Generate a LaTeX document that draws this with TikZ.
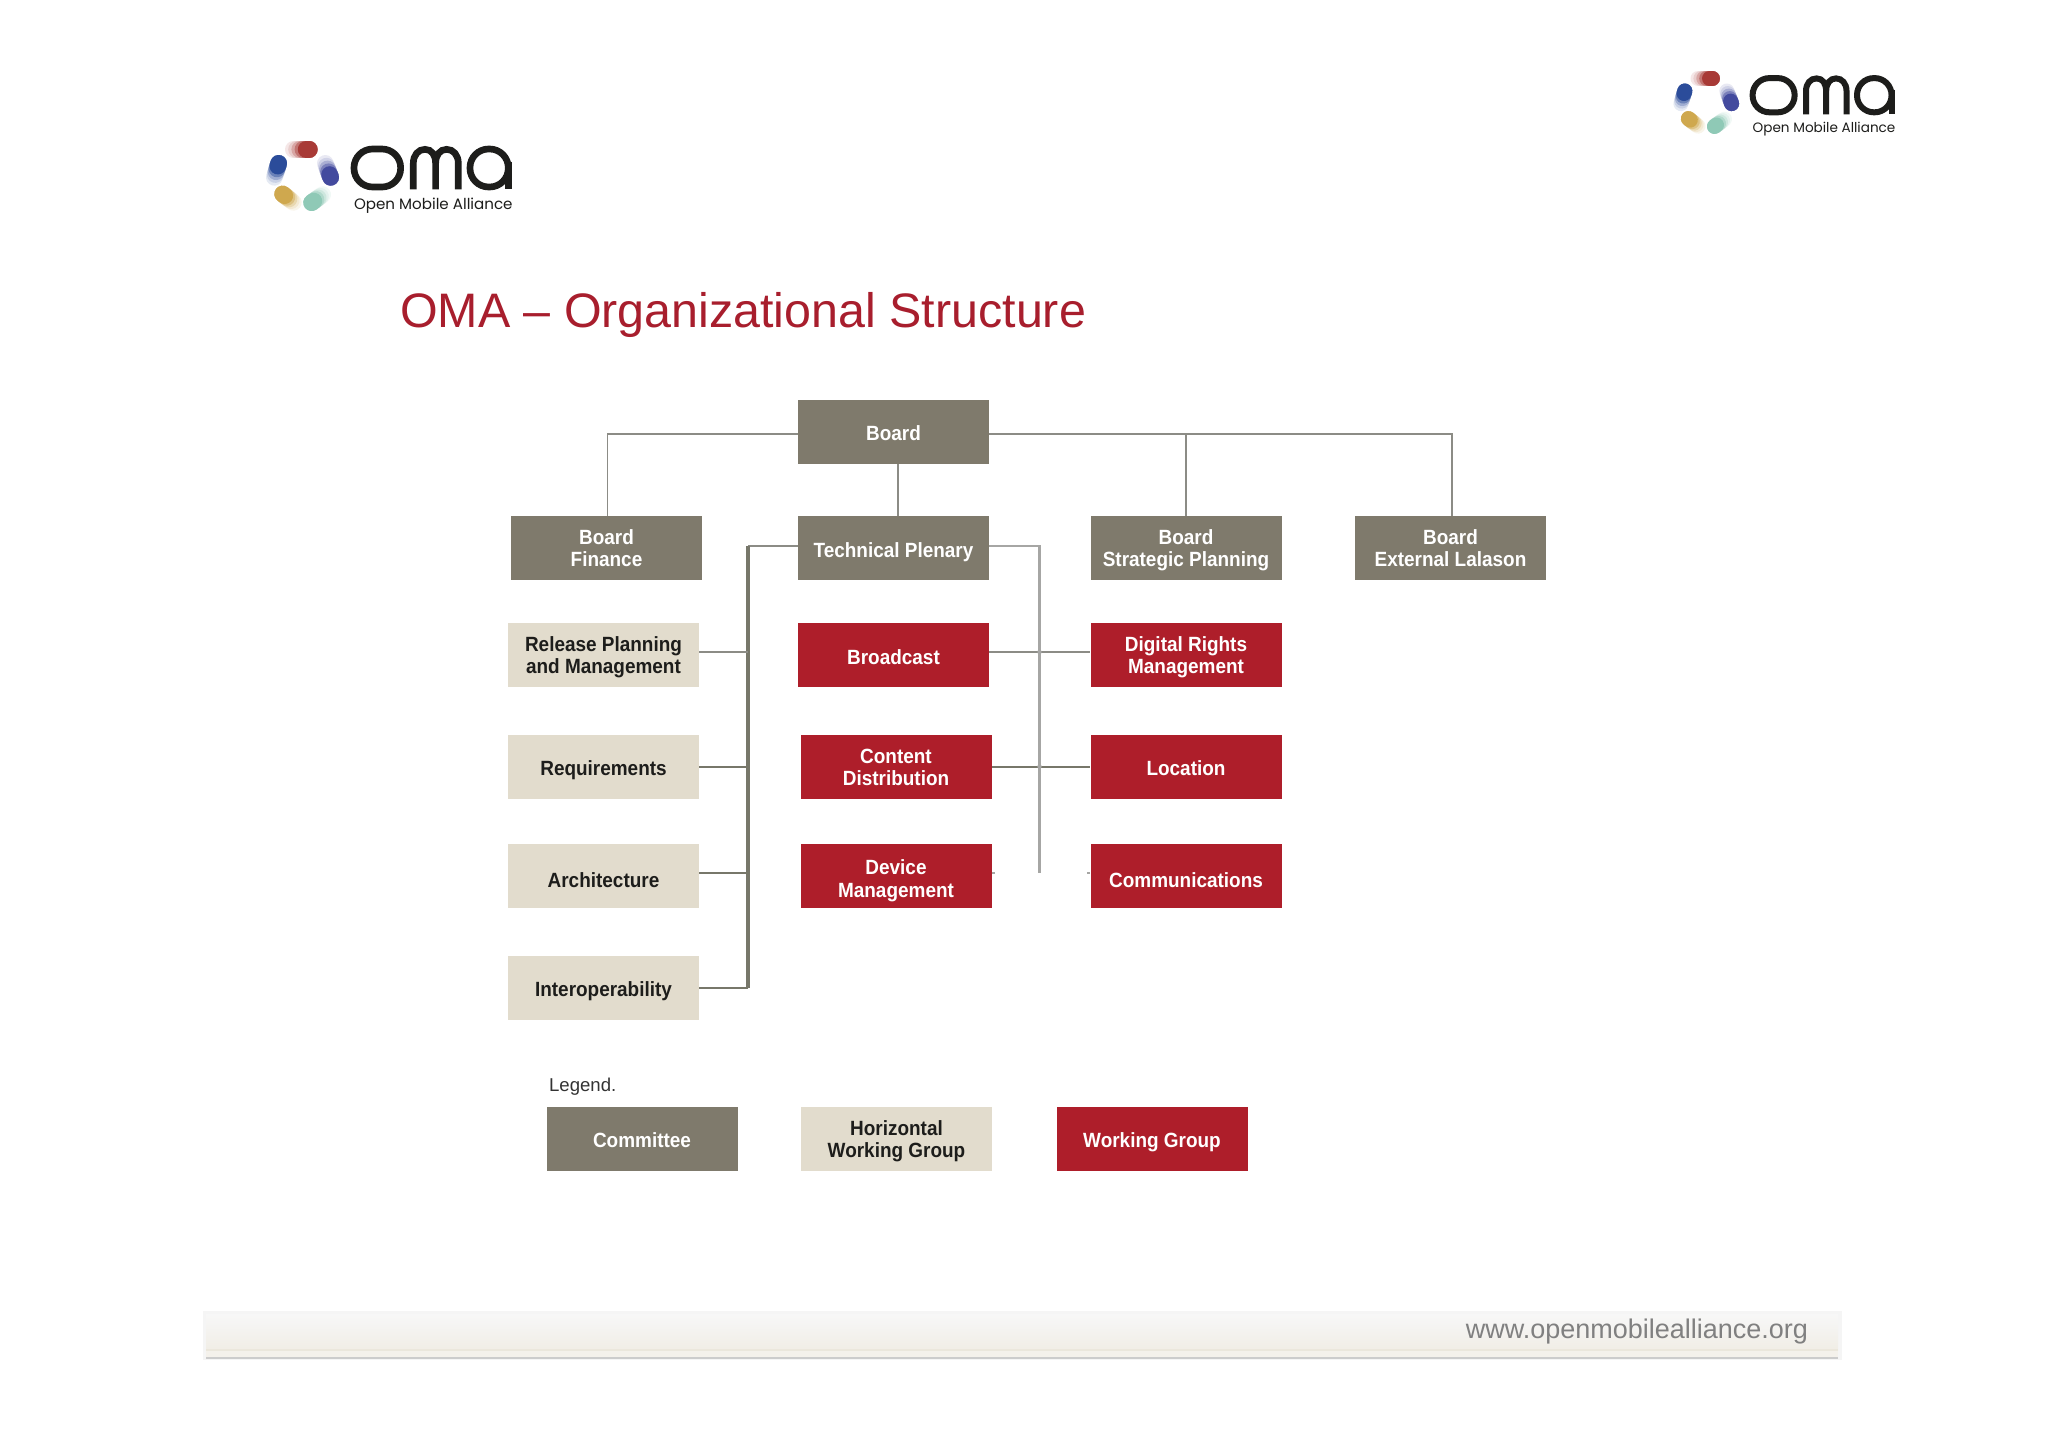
\documentclass[tikz,border=0pt]{standalone}
\usepackage{fontspec}
\setmainfont{Liberation Sans}
\newfontfamily\boxfont[FakeStretch=0.92]{Liberation Sans}
\newfontfamily\logofont{Poppins}
\usetikzlibrary{calc,positioning}
\definecolor{cgrey}{HTML}{7F7A6C}
\definecolor{ctan}{HTML}{E2DCCD}
\definecolor{cred}{HTML}{AE1E2A}
\definecolor{ctitle}{HTML}{A81E2D}
\definecolor{cink}{HTML}{1D1D1B}
\definecolor{cline}{HTML}{8C8C86}
\definecolor{clight}{HTML}{A6A6A4}
\definecolor{cbus}{HTML}{77776A}
\definecolor{bred}{HTML}{A83A36}
\definecolor{bblue}{HTML}{2B4C9A}
\definecolor{bindigo}{HTML}{434A9E}
\definecolor{bgold}{HTML}{CFA84E}
\definecolor{bteal}{HTML}{8FC9B6}

% one blurred stroke of the logo ring, light end first
\newcommand{\omablob}[3]{%
 \foreach \f/\o in {0/12,0.2/25,0.4/45,0.6/70,0.8/100}
  \draw[bl,#3!\o] ($#1!\f!#2$) -- #2;}

\newcommand{\omalogo}[4]{%
 \begin{scope}[shift={(#1,#2)},scale=#3,bl/.style={line width=25pt*#3,line cap=round}]
  \omablob{(160,88)}{(208,88)}{bred}
  \omablob{(103,172)}{(116,130)}{bblue}
  \omablob{(256,130)}{(272,172)}{bindigo}
  \omablob{(160,247)}{(128,222)}{bgold}
  \omablob{(248,224)}{(215,248)}{bteal}
  \begin{scope}[cink,line width=10pt*#3]
   \draw[rounded corners=28pt*#3] (342,87) rectangle (482,201);
   \draw (520,208) -- (520,130) .. controls (520,105) and (535,88) .. (555,88)
    .. controls (575,88) and (587,105) .. (587,130) -- (587,208);
   \draw (587,130) .. controls (587,105) and (600,88) .. (620,88)
    .. controls (640,88) and (655,105) .. (655,130) -- (655,208);
   \draw[rounded corners=28pt*#3] (690,87) rectangle (805,201);
   \draw (805,125) -- (805,208);
  \end{scope}
  \node[scale=3*#3,text=cink,font=\logofont\fontsize{7.55}{9}\selectfont] (#4) at (580,258) {Open Mobile Alliance};
 \end{scope}}

\tikzset{
 rh/.style={execute at begin node={\rule{0pt}{#1}}},
 box/.style={minimum width=95.5pt,minimum height=32pt,inner sep=0pt,align=center,
  font=\boxfont\bfseries\fontsize{10.3}{11.2}\selectfont,
  rh=11.9pt,
  execute at end node={\rule[-2.5pt]{0pt}{2.5pt}}},
 comm/.style={box,fill=cgrey,text=white},
 hwg/.style={box,fill=ctan,text=cink},
 wg/.style={box,fill=cred,text=white},
 ln/.style={cline,line width=0.9pt},
 lnr/.style={clight,line width=1.1pt},
 bus/.style={cbus,line width=1.8pt},
 lnd/.style={cbus,line width=1pt},
 dot/.style={circle,fill=clight,inner sep=0pt,minimum size=2.2pt}
}

\begin{document}
\begin{tikzpicture}[x=0.5pt,y=-0.5pt]
 \useasboundingbox (0,0) rectangle (2048,1447);
 \fill[white] (0,0) rectangle (2048,1447);
 % logos
 \omalogo{240}{120}{0.3333}{logoa}
 \omalogo{1650}{52}{0.3}{logob}
 \node[anchor=west,text=ctitle,font=\fontsize{24.2}{28}\selectfont] (title) at (393,315) {OMA – Organizational Structure};
 % footer band
 \fill[black!4] (203,1311) rectangle (1842,1360);
 \shade[top color=black!3,bottom color=ctan!50] (206,1314) rectangle (1838,1350);
 \fill[ctan!40] (206,1350) rectangle (1838,1359);
 \draw[ctan!70,line width=0.6pt] (206,1350) -- (1838,1350);
 \draw[black!20,line width=1pt] (206,1357.5) -- (1838,1357.5);
 \node[anchor=east,text=black!50,font=\fontsize{13.5}{16}\selectfont] (url) at (1815,1331) {www.openmobilealliance.org};
 % committees
 \node[comm] (board) at (893.5,431.5) {Board};
 \node[comm,rh=21.4pt] (fin) at (606.5,548) {Board\\Finance};
 \node[comm] (tech) at (893.5,548) {Technical Plenary};
 \node[comm,rh=21.4pt] (strat) at (1186,548) {Board\\Strategic Planning};
 \node[comm,rh=21.4pt] (ext) at (1450.5,548) {Board\\External Lalason};
 % horizontal groups
 \node[hwg,rh=21.4pt] (rel) at (603.5,655) {Release Planning\\and Management};
 \node[hwg] (req) at (603.5,766.5) {Requirements};
 \node[hwg,rh=13.9pt] (arch) at (603.5,876) {Architecture};
 \node[hwg] (iop) at (603.5,987.5) {Interoperability};
 % working groups
 \node[wg] (bro) at (893.5,655) {Broadcast};
 \node[wg,rh=21.4pt] (con) at (896,766.5) {Content\\Distribution};
 \node[wg,rh=23.6pt] (dev) at (896,876) {Device\\Management};
 \node[wg,rh=21.4pt] (drm) at (1186,655) {Digital Rights\\Management};
 \node[wg] (loc) at (1186,766.5) {Location};
 \node[wg,rh=13.9pt] (cmn) at (1186,876) {Communications};
 % legend
 \node[anchor=west,text=black!80,font=\fontsize{9.3}{11}\selectfont] (leg) at (542,1087) {Legend.};
 \node[comm] (lcomm) at (642,1138.5) {Committee};
 \node[hwg,rh=21.4pt] (lhwg) at (896.5,1138.5) {Horizontal\\Working Group};
 \node[wg] (lwg) at (1152,1138.5) {Working Group};
 % board lines
 \draw[ln] ([yshift=-1.2pt]board.west) -| ([xshift=0.5pt]fin.north);
 \draw[ln] ([yshift=-1.2pt]board.east) -| ([xshift=0.8pt]ext.north);
 \draw[ln] ([yshift=-1.2pt]board.east) -| (strat.north);
 \draw[ln] ([xshift=2.25pt]board.south) -- ([xshift=2.25pt]tech.north);
 % left bus
 \coordinate (lb) at (748,987.5);
 \coordinate (rb) at (1039.5,873);
 \draw[ln] ([yshift=1pt]tech.west) -- ([yshift=1pt]tech.west -| lb);
 \draw[bus] ([yshift=1pt]tech.west -| lb) -- (lb);
 \draw[lnd] (lb) -- (iop.east);
 \draw[ln] ([yshift=1.5pt]rel.east) -- ([yshift=1.5pt]rel.east -| lb);
 \draw[lnd] (req.east) -- (req.east -| lb);
 \draw[lnd] ([yshift=1.5pt]arch.east) -- ([yshift=1.5pt]arch.east -| lb);
 % right bus
 \draw[lnr] ([yshift=1pt]tech.east) -| (rb);
 \draw[ln] ([yshift=1.5pt]bro.east) -- ([yshift=1.5pt]drm.west);
 \draw[lnd] (con.east) -- (loc.west);
 \draw[lnr] ([yshift=1.5pt]dev.east) -- ++(1.5pt,0);
 \draw[lnr] ([yshift=1.5pt]cmn.west) -- ++(-1.5pt,0);
 \node[dot] (da) at (1039.5,652) {};
 \node[dot] (db) at (1039.5,766.5) {};
\end{tikzpicture}
\end{document}
